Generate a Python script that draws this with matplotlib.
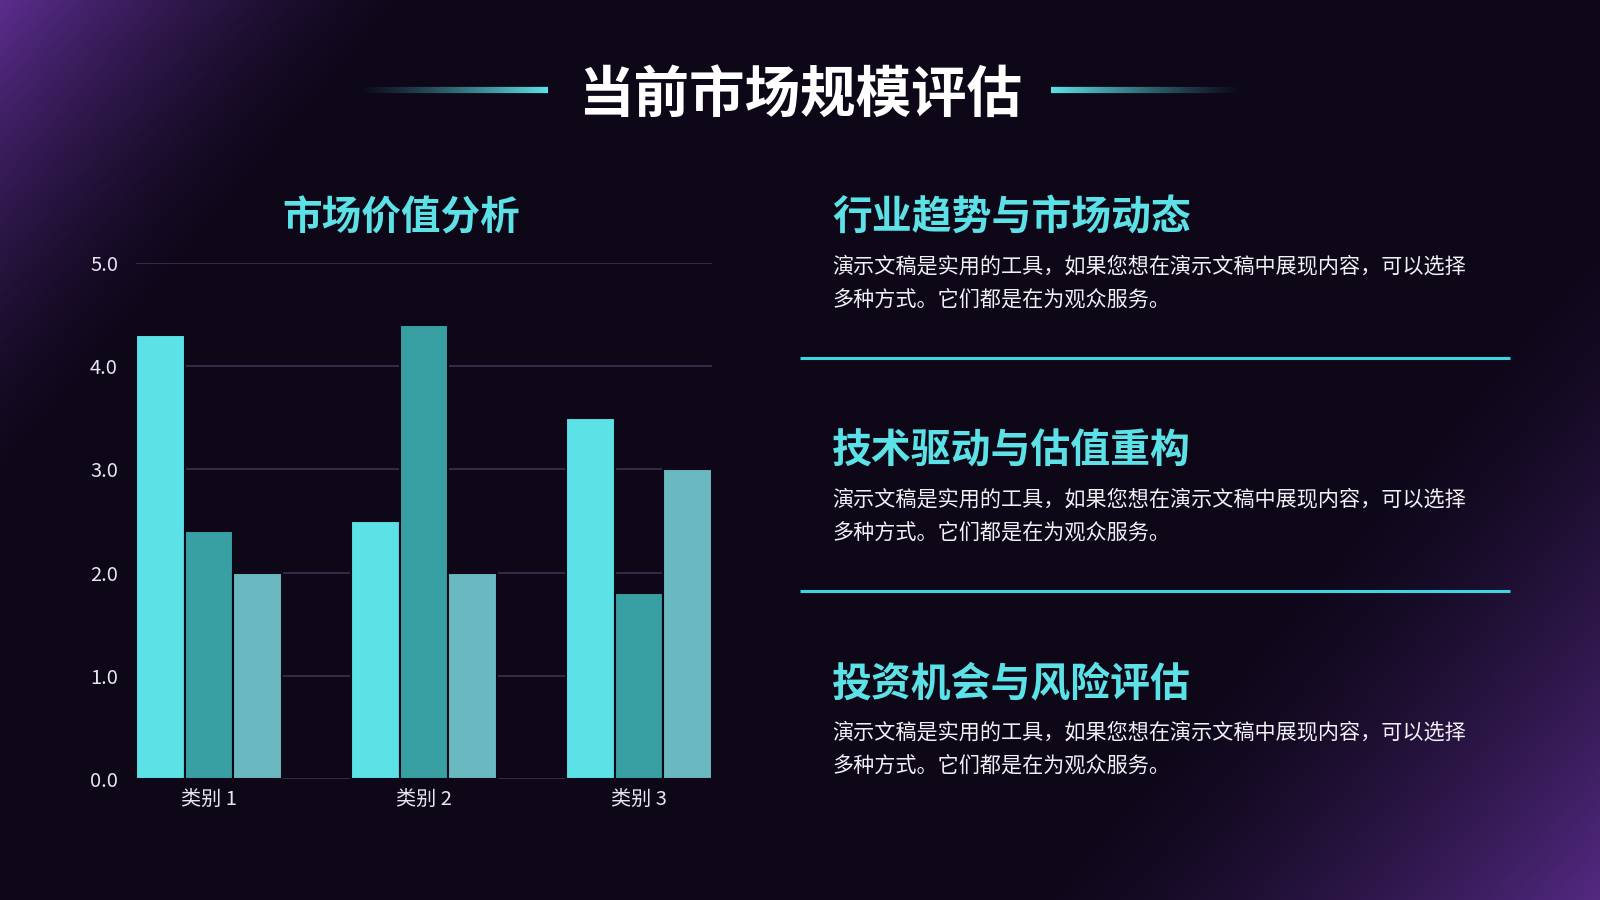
import numpy as np
import matplotlib
matplotlib.use("Agg")
import matplotlib.pyplot as plt
from matplotlib.collections import LineCollection
from matplotlib.colors import to_rgb

plt.rcParams['font.family'] = ['Noto Sans CJK SC', 'DejaVu Sans']

# --------------------
# data
# --------------------
categories = ["类别 1", "类别 2", "类别 3"]
series_1 = [4.3, 2.5, 3.5]
series_2 = [2.4, 4.4, 1.8]
series_3 = [2.0, 2.0, 3.0]
y_ticks = [0.0, 1.0, 2.0, 3.0, 4.0, 5.0]

title = "当前市场规模评估"
chart_title = "市场价值分析"
headings = ["行业趋势与市场动态", "技术驱动与估值重构", "投资机会与风险评估"]
body_lines = ["演示文稿是实用的工具，如果您想在演示文稿中展现内容，可以选择",
              "多种方式。它们都是在为观众服务。"]

BG = "#0d0718"
CYAN = "#5ce1e6"
bar_colors = ["#5ce1e6", "#38a0a3", "#6bb9c0"]

W, H = 1600, 900
fig = plt.figure(figsize=(16, 9), dpi=100)
fig.patch.set_facecolor(BG)

# --------------------
# background with purple corner glows
# --------------------
bg = fig.add_axes([0, 0, 1, 1], zorder=-5)
yy, xx = np.mgrid[0:H, 0:W]
d1 = (xx + yy * 0.85) / 430.0
d2 = ((W - xx) + (H - yy) * 0.85) / 600.0
g = np.clip(1 - d1, 0, 1) ** 1.5 + np.clip(1 - d2, 0, 1) ** 1.5 * 0.9
g = np.clip(g, 0, 1)[..., None]
c0 = np.array(to_rgb(BG))
c1 = np.array(to_rgb("#5b2d8e"))
img = c0 * (1 - g) + c1 * g
bg.imshow(img, extent=[0, W, H, 0], aspect="auto", interpolation="bilinear")
bg.set_xlim(0, W)
bg.set_ylim(H, 0)
bg.axis("off")

def fx(px):
    return px / W

def fy(py):
    return 1 - py / H

# title with gradient side lines
fig.text(fx(800), fy(96), title, color="white", fontsize=40, fontweight="black",
         ha="center", va="center")

def grad_line(x0, x1, y, fade_left):
    xs = np.linspace(x0, x1, 120)
    segs = [[(xs[i], y), (xs[i + 1], y)] for i in range(len(xs) - 1)]
    t = np.linspace(0, 1, len(segs))
    a = t if fade_left else 1 - t
    cols = [(*to_rgb(CYAN), max(0.0, v) ** 1.2) for v in a]
    lc = LineCollection(segs, colors=cols, linewidths=4.5, capstyle="butt")
    bg.add_collection(lc)

grad_line(357, 548, 90, True)
grad_line(1051, 1245, 90, False)

# --------------------
# bar chart
# --------------------
ax = fig.add_axes([0.085, 0.1344, 0.36, 0.5736])
ax.set_facecolor("none")
x = np.arange(len(categories))
bw = 0.226
off = 0.226
for i, (vals, col) in enumerate(zip([series_1, series_2, series_3], bar_colors)):
    ax.bar(x + (i - 1) * off, vals, width=bw, color=col, edgecolor=BG,
           linewidth=1.5, zorder=3)

ax.set_xlim(-0.339, 2.339)
ax.set_ylim(0, 5)
ax.set_yticks(y_ticks)
ax.set_yticklabels([f"{v:.1f}" for v in y_ticks])
ax.set_xticks(x)
ax.set_xticklabels(categories)
ax.tick_params(axis="both", length=0, colors="#e6e6ee", labelsize=14.5)
ax.tick_params(axis="y", pad=13)
ax.tick_params(axis="x", pad=7)
ax.grid(axis="y", color="#3a3350", linewidth=1.2)
ax.set_axisbelow(True)
for s in ax.spines.values():
    s.set_visible(False)

fig.text(fx(401), fy(218), chart_title, color=CYAN, fontsize=28.5, fontweight="black",
         ha="center", va="center")

# --------------------
# right side text blocks
# --------------------
for k, head in enumerate(headings):
    dy = 233 * k
    fig.text(fx(832), fy(218 + dy), head, color=CYAN, fontsize=28.7, fontweight="black",
             ha="left", va="center")
    for j, line in enumerate(body_lines):
        fig.text(fx(832), fy(266 + 34 * j + dy), line, color="#f0f0f5", fontsize=15.2,
                 ha="left", va="center")

for ly in [358, 591]:
    bg.plot([800, 1510], [ly, ly], color="#3fd4e2", linewidth=2.2, solid_capstyle="butt")

fig.savefig("out.png", dpi=100, facecolor=BG)
